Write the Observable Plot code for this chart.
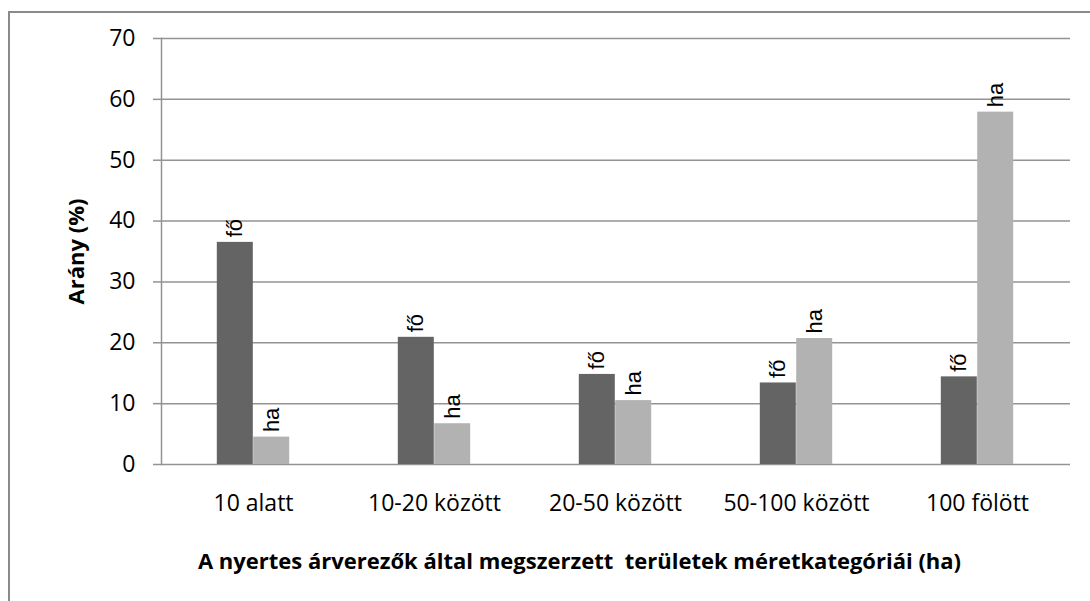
<!DOCTYPE html>
<html>
<head>
<meta charset="utf-8">
<script src="https://cdn.jsdelivr.net/npm/d3@7"></script>
<script src="https://cdn.jsdelivr.net/npm/@observablehq/plot@0.6"></script>
<style>
  html, body { margin: 0; padding: 0; background: #fff; }
  #chart svg { display: block; }
</style>
</head>
<body>
<div id="chart"></div>
<script>
const categories = ["10 alatt", "10-20 között", "20-50 között", "50-100 között", "100 fölött"];
const foValues = [36.5, 20.9, 14.8, 13.4, 14.4];
const haValues = [4.5, 6.7, 10.5, 20.7, 57.9];
const seriesNames = ["fő", "ha"];
const yTicks = [0, 10, 20, 30, 40, 50, 60, 70];
const yTitle = "Arány (%)";
const xTitle = "A nyertes árverezők által megszerzett  területek méretkategóriái (ha)";

const foData = categories.map((c, i) => ({category: c, value: foValues[i], series: seriesNames[0]}));
const haData = categories.map((c, i) => ({category: c, value: haValues[i], series: seriesNames[1]}));

const gridColor = "#939393";
const tickFont = "'Open Sans', sans-serif";
const labelFont = "'Liberation Sans', Arial, sans-serif";

const plot = Plot.plot({
  width: 1090,
  height: 601,
  marginLeft: 161,
  marginRight: 20,
  marginTop: 38,
  marginBottom: 137,
  style: {background: "#fff", fontFamily: tickFont, color: "#000"},
  x: {domain: categories, paddingInner: 0.8, paddingOuter: 0.4, label: null},
  y: {domain: [0, 70], label: null},
  marks: [
    Plot.gridY(yTicks, {stroke: gridColor, strokeOpacity: 1, strokeWidth: 1.5}),
    Plot.frame({anchor: "left", stroke: gridColor, strokeOpacity: 1, strokeWidth: 1.5}),
    Plot.axisY(yTicks, {tickSize: 8, tickPadding: 18, stroke: gridColor, strokeWidth: 1.5, fontSize: 23, fill: "#000", label: null, tickFormat: d => String(d)}),
    Plot.axisX({tickSize: 0, tickPadding: 30, fontSize: 23, fill: "#000", label: null}),
    Plot.barY(foData, {x: "category", y: "value", fill: "#646464", dx: -18.2}),
    Plot.barY(haData, {x: "category", y: "value", fill: "#b2b2b2", dx: 18.2}),
    Plot.text(foData, {x: "category", y: "value", text: "series", rotate: -90, textAnchor: "start", lineAnchor: "middle", dx: -18.2, dy: -5, fontSize: 22, fontFamily: labelFont, fill: "#000"}),
    Plot.text(haData, {x: "category", y: "value", text: "series", rotate: -90, textAnchor: "start", lineAnchor: "middle", dx: 18.2, dy: -5, fontSize: 22, fontFamily: labelFont, fill: "#000"}),
    Plot.text([yTitle], {frameAnchor: "left", textAnchor: "middle", lineAnchor: "middle", rotate: -90, dx: -85, fontSize: 22, fontWeight: "bold", fontFamily: "'Open Sans', sans-serif", fill: "#000"}),
    Plot.text([xTitle], {frameAnchor: "bottom", textAnchor: "middle", lineAnchor: "middle", dx: -36.5, dy: 97, fontSize: 22, fontWeight: "bold", fontFamily: "'Open Sans', sans-serif", fill: "#000"})
  ]
});

// preserve the double space in the x title
d3.select(plot).selectAll("text").filter(function() { return this.textContent === xTitle; }).attr("xml:space", "preserve").style("white-space", "pre");

// outer chart border (left and top edges visible)
d3.select(plot).insert("rect", ":first-child")
  .attr("x", 9).attr("y", 12).attr("width", 1100).attr("height", 600)
  .attr("fill", "#fff").attr("stroke", "#8a8a8a").attr("stroke-width", 2);

document.getElementById("chart").appendChild(plot);
</script>
</body>
</html>
